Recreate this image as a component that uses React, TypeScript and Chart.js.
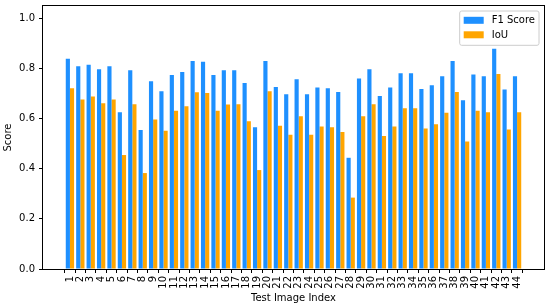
import React, { useEffect, useRef } from "react";
import { Chart, registerables } from "chart.js";

Chart.register(...registerables);

const imageIndex = [
  1, 2, 3, 4, 5, 6, 7, 8, 9, 10, 11, 12, 13, 14, 15, 16, 17, 18, 19, 20, 21, 22,
  23, 24, 25, 26, 27, 28, 29, 30, 31, 32, 33, 34, 35, 36, 37, 38, 39, 40, 41, 42, 43, 44,
];
const f1Score = [
  0.839, 0.809, 0.815, 0.797, 0.809, 0.626, 0.793, 0.555, 0.75, 0.71, 0.775,
  0.787, 0.83, 0.827, 0.775, 0.793, 0.793, 0.743, 0.566, 0.83, 0.727, 0.698,
  0.758, 0.698, 0.725, 0.722, 0.707, 0.444, 0.761, 0.797, 0.691, 0.725, 0.782,
  0.782, 0.719, 0.734, 0.77, 0.83, 0.674, 0.777, 0.77, 0.879, 0.717, 0.77,
];
const iou = [
  0.722, 0.677, 0.689, 0.662, 0.677, 0.455, 0.658, 0.383, 0.597, 0.552, 0.632,
  0.65, 0.706, 0.703, 0.632, 0.657, 0.658, 0.59, 0.395, 0.71, 0.572, 0.536,
  0.61, 0.536, 0.569, 0.566, 0.547, 0.285, 0.61, 0.658, 0.531, 0.569, 0.642,
  0.642, 0.561, 0.578, 0.624, 0.707, 0.509, 0.632, 0.626, 0.779, 0.557, 0.626,
];
const yTickValues = [0, 0.2, 0.4, 0.6, 0.8, 1.0];
const seriesNames = ["F1 Score", "IoU"];
const seriesColors = ["#1E90FF", "#FFA500"];
const xAxisTitle = "Test Image Index";
const yAxisTitle = "Score";

const FONT = "'DejaVu Sans', sans-serif";

const frameAndLegend = {
  id: "frameAndLegend",
  afterDatasetsDraw(chart: any) {
    const { ctx, chartArea } = chart;
    ctx.save();
    // full frame (matplotlib spines)
    ctx.strokeStyle = "#000";
    ctx.lineWidth = 1;
    const l = Math.round(chartArea.left) - 0.5;
    const t = Math.round(chartArea.top) - 0.5;
    const r = Math.round(chartArea.right) + 0.5;
    const b = Math.round(chartArea.bottom) + 0.5;
    ctx.strokeRect(l, t, r - l, b - t);

    // legend
    ctx.font = `10px ${FONT}`;
    const ds = chart.data.datasets;
    let maxW = 0;
    ds.forEach((d: any) => {
      maxW = Math.max(maxW, ctx.measureText(d.label).width);
    });
    const boxW = 4 + 20 + 8 + maxW + 4;
    const boxH = 34.3;
    const boxRight = chartArea.right - 5;
    const boxLeft = boxRight - boxW;
    const boxTop = chartArea.top + 5;
    const rad = 2;
    ctx.beginPath();
    ctx.moveTo(boxLeft + rad, boxTop);
    ctx.lineTo(boxRight - rad, boxTop);
    ctx.quadraticCurveTo(boxRight, boxTop, boxRight, boxTop + rad);
    ctx.lineTo(boxRight, boxTop + boxH - rad);
    ctx.quadraticCurveTo(boxRight, boxTop + boxH, boxRight - rad, boxTop + boxH);
    ctx.lineTo(boxLeft + rad, boxTop + boxH);
    ctx.quadraticCurveTo(boxLeft, boxTop + boxH, boxLeft, boxTop + boxH - rad);
    ctx.lineTo(boxLeft, boxTop + rad);
    ctx.quadraticCurveTo(boxLeft, boxTop, boxLeft + rad, boxTop);
    ctx.closePath();
    ctx.fillStyle = "rgba(255,255,255,0.8)";
    ctx.fill();
    ctx.strokeStyle = "#cccccc";
    ctx.stroke();

    ds.forEach((d: any, i: number) => {
      const cy = boxTop + 9.3 + i * 14.5;
      ctx.fillStyle = d.backgroundColor;
      ctx.fillRect(boxLeft + 4, cy - 3.5, 20, 7);
      ctx.fillStyle = "#000";
      ctx.textBaseline = "middle";
      ctx.textAlign = "left";
      ctx.fillText(d.label, boxLeft + 32, cy + 0.5);
    });
    ctx.restore();
  },
};

export default function App() {
  const canvasRef = useRef<HTMLCanvasElement | null>(null);

  useEffect(() => {
    const canvas = canvasRef.current;
    if (!canvas) return;
    const xMin = imageIndex[0] - 2.59;
    const xMax = imageIndex[imageIndex.length - 1] + 2.59;
    const chart = new Chart(canvas, {
      type: "bar",
      data: {
        datasets: [
          {
            label: seriesNames[0],
            data: imageIndex.map((x, i) => ({ x, y: f1Score[i] })),
            backgroundColor: seriesColors[0],
            borderWidth: 0,
            categoryPercentage: 0.8,
            barPercentage: 1.0,
          },
          {
            label: seriesNames[1],
            data: imageIndex.map((x, i) => ({ x, y: iou[i] })),
            backgroundColor: seriesColors[1],
            borderWidth: 0,
            categoryPercentage: 0.8,
            barPercentage: 1.0,
          },
        ],
      },
      options: {
        responsive: false,
        animation: false,
        events: [],
        layout: { padding: { top: 6, right: 6, left: 0, bottom: 0 } },
        plugins: {
          legend: { display: false },
          tooltip: { enabled: false },
        },
        scales: {
          x: {
            type: "linear",
            min: xMin,
            max: xMax,
            offset: false,
            border: { display: false },
            grid: {
              drawOnChartArea: false,
              drawTicks: true,
              tickLength: 4,
              color: "#000",
            },
            ticks: {
              autoSkip: false,
              maxRotation: 90,
              minRotation: 90,
              padding: 3,
              color: "#000",
              font: { family: FONT, size: 10 },
              callback: (v: any) => String(v),
            },
            afterBuildTicks: (scale: any) => {
              scale.ticks = imageIndex.map((v) => ({ value: v }));
            },
            afterFit: (scale: any) => {
              scale.height = 39;
              scale.paddingLeft = 0;
              scale.paddingRight = 0;
            },
            title: {
              display: true,
              text: xAxisTitle,
              color: "#000",
              font: { family: FONT, size: 10 },
              padding: { top: 0, bottom: 4 },
            },
          },
          y: {
            type: "linear",
            min: 0,
            max: 1.05,
            border: { display: false },
            grid: {
              drawOnChartArea: false,
              drawTicks: true,
              tickLength: 4,
              color: "#000",
            },
            ticks: {
              padding: 4,
              color: "#000",
              font: { family: FONT, size: 10 },
              callback: (v: any) => Number(v).toFixed(1),
            },
            afterBuildTicks: (scale: any) => {
              scale.ticks = yTickValues.map((v) => ({ value: v }));
            },
            afterFit: (scale: any) => {
              scale.width = 43;
              scale.paddingTop = 0;
              scale.paddingBottom = 0;
            },
            title: {
              display: true,
              text: yAxisTitle,
              color: "#000",
              font: { family: FONT, size: 10 },
              padding: { top: 2.3, bottom: 0 },
            },
          },
        },
      },
      plugins: [frameAndLegend],
    } as any);
    return () => chart.destroy();
  }, []);

  return (
    <div style={{ position: "fixed", left: 0, top: 0, width: 550, height: 308, background: "#fff" }}>
      <canvas ref={canvasRef} width={550} height={308} style={{ display: "block", width: 550, height: 308 }} />
    </div>
  );
}
